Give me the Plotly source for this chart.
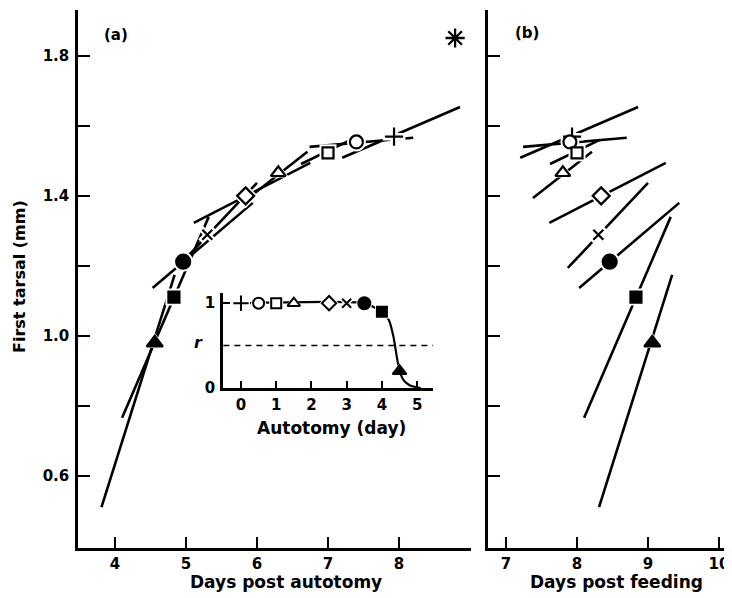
import plotly.graph_objects as go

# ---- data ----
autotomy_day = [0, 0.5, 1, 1.5, 2.5, 3, 3.5, 4, 4.5]
feed_day = [7.93, 7.90, 8.00, 7.80, 8.34, 8.30, 8.46, 8.83, 9.06]
tarsal = [1.569, 1.554, 1.523, 1.466, 1.400, 1.289, 1.212, 1.111, 0.980]
line_x0 = [7.20, 7.24, 7.62, 7.38, 7.61, 7.87, 8.03, 8.10, 8.31]
line_x1 = [8.86, 8.70, 8.32, 8.21, 9.25, 9.00, 9.44, 9.32, 9.34]
line_y0 = [1.509, 1.540, 1.491, 1.394, 1.323, 1.194, 1.137, 0.766, 0.511]
line_y1 = [1.654, 1.566, 1.560, 1.526, 1.494, 1.437, 1.380, 1.340, 1.174]
symbols = ["cross-thin-open", "circle", "square", "triangle-up", "diamond",
           "x-thin-open", "circle", "square", "triangle-up"]
fills = ["black", "white", "white", "white", "white", "black", "black", "black", "black"]
sizes = [13, 13, 11, 13, 13, 10, 14, 11, 14]

control_x = [8.79]
control_y = [1.851]

inset_r = [1, 1, 1, 1, 1, 1, 1, 0.9, 0.2]
curve_x = [0, 3.5, 4.0, 4.2, 4.33, 4.43, 4.5, 4.62, 4.8, 5.1]
curve_y = [1, 1, 0.9, 0.8, 0.6, 0.35, 0.2, 0.09, 0.03, 0]
threshold = 0.5

y_ticks = [0.6, 0.8, 1.0, 1.2, 1.4, 1.6, 1.8]
y_ticktext = ["0.6", "", "1.0", "", "1.4", "", "1.8"]
xa_ticks = [4, 5, 6, 7, 8, 9]
xa_ticktext = ["4", "5", "6", "7", "8", ""]
xb_ticks = [7, 8, 9, 10]
inset_xticks = [0, 1, 2, 3, 4, 5]

FONT = "DejaVu Sans"
fig = go.Figure()

def add_group(xaxis, yaxis, shift):
    for i in range(len(feed_day)):
        s = autotomy_day[i] if shift else 0
        fig.add_trace(go.Scatter(
            x=[line_x0[i] - s, line_x1[i] - s], y=[line_y0[i], line_y1[i]],
            mode="lines", line=dict(color="black", width=2.6),
            xaxis=xaxis, yaxis=yaxis, showlegend=False, hoverinfo="skip"))
    for i in range(len(feed_day)):
        s = autotomy_day[i] if shift else 0
        fig.add_trace(go.Scatter(
            x=[feed_day[i] - s], y=[tarsal[i]], mode="markers",
            marker=dict(symbol=symbols[i].replace("-thin-open", ""), size=sizes[i] + 6,
                        color="white", opacity=1, line=dict(width=0)),
            xaxis=xaxis, yaxis=yaxis, showlegend=False, hoverinfo="skip"))
    for i in range(len(feed_day)):
        s = autotomy_day[i] if shift else 0
        fig.add_trace(go.Scatter(
            x=[feed_day[i] - s], y=[tarsal[i]], mode="markers",
            marker=dict(symbol=symbols[i], size=sizes[i], color=fills[i], opacity=1,
                        line=dict(color="black", width=2.2)),
            xaxis=xaxis, yaxis=yaxis, showlegend=False))

add_group("x", "y", True)
add_group("x2", "y2", False)

fig.add_trace(go.Scatter(
    x=control_x, y=control_y, mode="markers",
    marker=dict(symbol="asterisk-open", size=16, color="black", opacity=1,
                line=dict(color="black", width=2.3)),
    xaxis="x", yaxis="y", showlegend=False))

# inset
fig.add_trace(go.Scatter(
    x=[-0.5, 5.45], y=[threshold, threshold], mode="lines",
    line=dict(color="black", width=1.5, dash="6px,5px"),
    xaxis="x3", yaxis="y3", showlegend=False, hoverinfo="skip"))
fig.add_trace(go.Scatter(
    x=curve_x, y=curve_y, mode="lines", line=dict(color="black", width=2.2, shape="spline", smoothing=0.5),
    xaxis="x3", yaxis="y3", showlegend=False, hoverinfo="skip", cliponaxis=False))
isizes = [11, 11, 10, 11, 11, 9, 12, 10, 12]
fig.add_trace(go.Scatter(
    x=autotomy_day, y=inset_r, mode="markers",
    marker=dict(symbol=[s.replace("-thin-open", "") for s in symbols],
                size=[s + 4 for s in isizes], color="white", opacity=1, line=dict(width=0)),
    xaxis="x3", yaxis="y3", showlegend=False, hoverinfo="skip", cliponaxis=False))
fig.add_trace(go.Scatter(
    x=autotomy_day, y=inset_r, mode="markers",
    marker=dict(symbol=symbols, size=isizes, color=fills, opacity=1,
                line=dict(color="black", width=2)),
    xaxis="x3", yaxis="y3", showlegend=False, cliponaxis=False))

axis_common = dict(showline=True, linecolor="black", linewidth=2.5, showgrid=False,
                   zeroline=False, ticks="inside", tickcolor="black", tickwidth=2.2,
                   automargin=False,
                   tickfont=dict(family=FONT, size=15, color="black", weight="bold"))

# the page adds an 8px body margin, so the figure is made 8px smaller
OFF = 8
W, H = 732 - OFF, 598 - OFF
L, R, T, B = 78 - OFF, 0, 10 - OFF, 598 - 548
pw, ph = W - L - R, H - T - B

def px(xp):
    return (xp - 78) / pw

def py(yp):
    return (548 - yp) / ph

fig.update_layout(
    width=W, height=H, margin=dict(l=L, r=R, t=T, b=B, autoexpand=False),
    paper_bgcolor="white", plot_bgcolor="white",
    xaxis=dict(domain=[0, px(471)], range=[3.479, 9.014], tickvals=xa_ticks,
               ticktext=xa_ticktext, ticklen=11, ticklabelstandoff=0, anchor="y", **axis_common),
    yaxis=dict(domain=[0, 1], range=[0.394, 1.931], tickvals=y_ticks, ticktext=y_ticktext,
               ticklen=12, ticklabelstandoff=3, anchor="x", **axis_common),
    xaxis2=dict(domain=[px(488), 1], range=[6.746, 10.183], tickvals=xb_ticks,
                ticklen=11, ticklabelstandoff=0, anchor="y2", **axis_common),
    yaxis2=dict(domain=[0, 1], range=[0.394, 1.931], tickvals=y_ticks, showticklabels=False,
                ticklen=12, anchor="x2", **axis_common),
    xaxis3=dict(domain=[px(223), px(433)], range=[-0.51, 5.45], tickvals=inset_xticks,
                ticklen=7, ticklabelstandoff=1, anchor="y3", **axis_common),
    yaxis3=dict(domain=[py(388), py(293)], range=[0, 1.12], tickvals=[0, 1],
                ticklen=7, ticklabelstandoff=2, anchor="x3", **axis_common),
)

def ann(text, xp, yp, size=17, angle=0, italic=False):
    fig.add_annotation(text=text, x=px(xp), y=py(yp), xref="paper", yref="paper",
                       showarrow=False, textangle=angle, xanchor="center", yanchor="middle",
                       font=dict(family=FONT, size=size, color="black", weight="bold",
                                 style="italic" if italic else "normal"))

ann("Days post autotomy", 286, 582)
ann("Days post feeding", 616, 582)
ann("First tarsal (mm)", 19, 277, size=16, angle=-90)
ann("(a)", 116, 35, size=15)
ann("(b)", 527, 33, size=15)
ann("Autotomy (day)", 331, 428)
ann("r", 198, 343, size=16, italic=True)

fig.write_html("out.html")
